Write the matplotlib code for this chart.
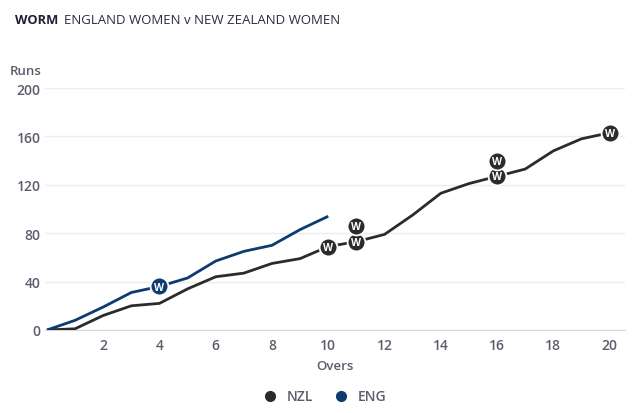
import matplotlib.pyplot as plt
from matplotlib.lines import Line2D

plt.rcParams['font.family'] = ['Open Sans', 'DejaVu Sans']

overs = list(range(0, 21))
nzl_runs = [0, 1, 12, 20, 22, 34, 44, 47, 55, 59, 69, 73, 79, 95, 113, 121, 127, 133, 148, 158, 163]
eng_overs = list(range(0, 11))
eng_runs = [0, 8, 19, 31, 36, 43, 57, 65, 70, 83, 94]

nzl_wickets = [10, 11, 11, 16, 16, 20]
eng_wickets = [4]

NZL_COL = "#2b2b2b"
ENG_COL = "#0b3b6f"
TICK_COL = "#5c5c6c"
GRID_COL = "#ececef"


def draw_wickets(ax, wkts, xs, ys, color):
    seen = {}
    for w in wkts:
        k = seen.get(w, 0)
        seen[w] = k + 1
        y = ys[xs.index(w)] + k * 13
        ax.scatter([w], [y], s=165, color=color, edgecolors="white",
                   linewidths=1.3, zorder=5, clip_on=False)
        ax.text(w, y - 0.5, "W", color="white", fontsize=7.5, fontweight="bold",
                ha="center", va="center", zorder=6)


fig = plt.figure(figsize=(6.4, 4.14), dpi=100)
ax = fig.add_axes([0.0703, 0.2005, 0.9063, 0.5845])

ax.plot(overs, nzl_runs, color=NZL_COL, lw=2.0, zorder=3, solid_capstyle="butt")
ax.plot(eng_overs, eng_runs, color=ENG_COL, lw=2.0, zorder=3, solid_capstyle="butt")
draw_wickets(ax, nzl_wickets, overs, nzl_runs, NZL_COL)
draw_wickets(ax, eng_wickets, eng_overs, eng_runs, ENG_COL)

ax.set_xlim(-0.07, 20.55)
ax.set_ylim(0, 200)
ax.set_xticks(range(2, 21, 2))
ax.set_yticks(range(0, 201, 40))
ax.grid(axis="y", color=GRID_COL, lw=1)
ax.set_axisbelow(True)
for s in ["top", "right", "left"]:
    ax.spines[s].set_visible(False)
ax.spines["bottom"].set_color("#d6d6dc")
ax.tick_params(length=0, colors=TICK_COL, labelsize=10)
ax.tick_params(axis="y", pad=3)
ax.tick_params(axis="x", pad=6)
for lab in ax.get_xticklabels() + ax.get_yticklabels():
    lab.set_fontweight("semibold")

ax.set_xlabel("Overs", color=TICK_COL, fontsize=9.5, fontweight="semibold", labelpad=5)
fig.text(0.016, 0.828, "Runs", color=TICK_COL, fontsize=9.5, fontweight="semibold",
         ha="left", va="center")

fig.text(0.023, 0.951, "WORM", color="#1d2033", fontsize=9.3, fontweight="bold",
         ha="left", va="center")
fig.text(0.1, 0.951, "ENGLAND WOMEN v NEW ZEALAND WOMEN", color="#2a2d40",
         fontsize=9.5, ha="left", va="center")

handles = [Line2D([], [], marker="o", ls="", color=NZL_COL, markersize=7, label="NZL"),
           Line2D([], [], marker="o", ls="", color=ENG_COL, markersize=7, label="ENG")]
leg = fig.legend(handles=handles, loc="center", bbox_to_anchor=(0.502, 0.04), ncol=2,
                 frameon=False, handletextpad=0.2, columnspacing=1.0, fontsize=10)
for t in leg.get_texts():
    t.set_color(TICK_COL)
    t.set_fontweight("semibold")

fig.savefig("out.png", dpi=100)
